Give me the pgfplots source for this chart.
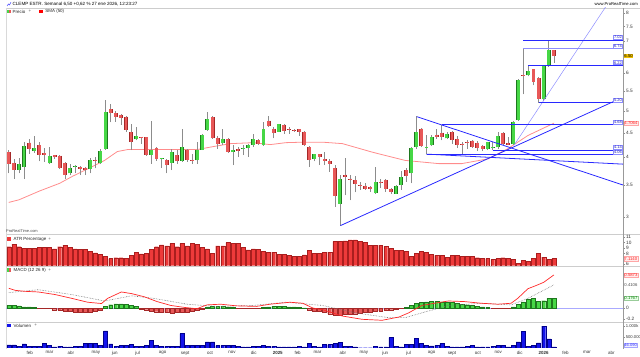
\documentclass[border=0pt]{standalone}
\usepackage{pgfplots}
\pgfplotsset{compat=1.18}
\usepackage{pgfplotstable}
\usepackage{fontspec}
\setmainfont{Liberation Sans}

\definecolor{candleR}{RGB}{232,88,88}
\definecolor{candleRd}{RGB}{165,40,40}
\definecolor{candleG}{RGB}{70,215,70}
\definecolor{candleGd}{RGB}{30,120,30}
\definecolor{wick}{RGB}{140,140,140}
\definecolor{sma}{RGB}{255,140,140}
\definecolor{tl}{RGB}{40,40,255}
\definecolor{tll}{RGB}{140,140,255}
\definecolor{atrR}{RGB}{238,58,58}
\definecolor{atrRd}{RGB}{170,30,30}
\definecolor{macdR}{RGB}{255,40,40}
\definecolor{volB}{RGB}{20,20,235}
\definecolor{volBd}{RGB}{0,0,140}
\definecolor{sepc}{RGB}{205,205,205}
\definecolor{zeroL}{RGB}{170,170,255}
\definecolor{ybox}{RGB}{240,192,0}

\pgfplotstableread{
i O H L C
0 4.10 4.14 3.70 3.88
1 3.90 3.97 3.61 3.76
2 3.77 3.98 3.70 3.88
3 3.82 4.30 3.60 4.22
4 4.29 4.36 4.07 4.17
5 4.12 4.44 4.09 4.19
6 4.24 4.30 3.92 4.05
7 4.08 4.18 3.91 4.05
8 3.89 4.20 3.88 4.02
9 4.04 4.05 3.97 4.00
10 4.03 4.04 3.78 3.79
11 3.89 3.91 3.61 3.67
12 3.70 3.88 3.67 3.80
13 3.82 3.86 3.70 3.84
14 3.82 3.84 3.67 3.78
15 3.80 3.82 3.67 3.76
16 3.78 3.98 3.70 3.95
17 3.95 4.00 3.79 3.93
18 3.90 4.17 3.88 4.12
19 4.16 5.27 4.15 4.98
20 5.04 5.16 4.73 4.94
21 4.94 5.00 4.74 4.86
22 4.90 4.92 4.67 4.84
23 4.86 4.88 4.51 4.56
24 4.51 4.69 4.14 4.30
25 4.36 4.62 4.34 4.43
26 4.41 4.41 4.27 4.38
27 4.40 4.41 4.03 4.05
28 4.05 4.77 3.88 4.15
29 4.18 4.20 3.93 3.97
30 3.97 3.99 3.80 3.98
31 3.94 3.97 3.70 3.85
32 3.90 4.17 3.76 4.10
33 4.04 4.14 3.88 3.92
34 3.93 4.58 3.91 4.20
35 4.15 4.17 3.91 3.94
36 3.95 4.07 3.88 3.94
37 3.94 4.30 3.88 4.14
38 4.15 4.48 4.14 4.46
39 4.56 4.98 4.54 4.81
40 4.85 4.88 4.37 4.38
41 4.39 4.44 4.17 4.27
42 4.28 4.58 4.24 4.37
43 4.36 4.38 4.09 4.10
44 4.10 4.24 3.85 4.14
45 4.17 4.20 4.00 4.13
46 4.17 4.24 4.04 4.18
47 4.18 4.27 4.00 4.25
48 4.25 4.48 4.20 4.37
49 4.34 4.37 4.25 4.27
50 4.24 4.74 4.23 4.59
51 4.77 4.88 4.62 4.64
52 4.59 4.63 4.38 4.49
53 4.52 4.70 4.51 4.69
54 4.68 4.69 4.48 4.54
55 4.58 4.62 4.48 4.56
56 4.56 4.58 4.51 4.53
57 4.58 4.59 4.43 4.51
58 4.51 4.54 4.23 4.24
59 4.20 4.22 3.82 3.95
60 3.97 4.07 3.92 4.06
61 4.06 4.07 3.85 4.00
62 3.97 4.11 3.85 3.92
63 3.93 3.97 3.73 3.87
64 3.80 3.85 3.15 3.32
65 3.20 3.68 2.88 3.61
66 3.68 3.99 3.33 3.63
67 3.61 3.67 3.25 3.58
68 3.58 3.66 3.38 3.51
69 3.50 3.55 3.42 3.49
70 3.49 3.53 3.42 3.44
71 3.47 3.49 3.39 3.43
72 3.37 3.82 3.36 3.56
73 3.56 3.61 3.45 3.55
74 3.59 3.61 3.39 3.43
75 3.43 3.45 3.36 3.39
76 3.36 3.50 3.35 3.48
77 3.50 3.74 3.42 3.64
78 3.76 3.80 3.56 3.66
79 3.70 4.20 3.53 4.18
80 4.20 4.87 4.17 4.51
81 4.59 4.61 4.20 4.22
82 4.20 4.45 4.06 4.21
83 4.24 4.45 4.23 4.40
84 4.46 4.58 4.37 4.41
85 4.50 4.68 4.34 4.41
86 4.38 4.51 4.37 4.48
87 4.51 4.54 4.27 4.35
88 4.37 4.44 4.18 4.25
89 4.27 4.30 4.05 4.26
90 4.30 4.34 4.17 4.29
91 4.33 4.35 4.18 4.20
92 4.29 4.33 4.12 4.19
93 4.22 4.25 4.12 4.16
94 4.16 4.31 4.14 4.30
95 4.20 4.30 4.14 4.21
96 4.20 4.52 4.17 4.43
97 4.49 4.51 4.24 4.27
98 4.29 4.40 4.24 4.25
99 4.27 4.77 4.24 4.74
100 4.79 5.82 4.77 5.80
101 5.93 6.74 5.41 5.90
102 5.93 6.22 5.90 6.05
103 6.10 6.12 5.65 5.73
104 5.84 5.87 5.20 5.30
105 5.29 6.22 5.25 6.20
106 6.20 7.00 6.18 6.69
107 6.69 6.71 6.30 6.50
}\ohlc

\pgfplotstableread{
i v
0 9.23
1 9.70
2 9.23
3 8.93
4 8.93
5 8.93
6 9.11
7 9.11
8 9.11
9 8.81
10 9.23
11 9.52
12 9.11
13 8.81
14 8.70
15 8.70
16 8.34
17 8.11
18 7.81
19 7.52
20 7.05
21 7.22
22 7.22
23 7.05
24 7.64
25 8.23
26 7.93
27 8.05
28 8.76
29 9.23
30 9.58
31 9.40
32 9.82
33 9.23
34 9.82
35 9.40
36 9.87
37 9.70
38 9.11
39 8.81
40 8.05
41 9.40
42 9.40
43 9.99
44 9.82
45 9.82
46 9.11
47 8.64
48 8.81
49 8.70
50 8.34
51 8.23
52 8.23
53 7.81
54 7.81
55 7.64
56 7.46
57 7.46
58 7.75
59 8.52
60 8.05
61 8.05
62 8.23
63 8.23
64 10.17
65 10.17
66 10.29
67 10.46
68 10.46
69 10.17
70 9.99
71 9.52
72 9.52
73 9.52
74 9.29
75 8.99
76 8.52
77 8.52
78 8.40
79 7.52
80 8.05
81 8.34
82 8.23
83 7.81
84 7.64
85 7.64
86 7.34
87 7.64
88 7.64
89 7.52
90 7.46
91 7.46
92 7.22
93 7.05
94 7.05
95 6.87
96 7.05
97 7.22
98 7.05
99 6.87
100 6.16
101 6.75
102 6.58
103 7.05
104 8.05
105 7.34
106 6.87
107 7.11
}\atr

\pgfplotstableread{
i v
0 0.05
1 0.05
2 0.04
3 0.02
4 0.02
5 0.01
6 -0.005
7 -0.01
8 -0.01
9 -0.03
10 -0.035
11 -0.05
12 -0.06
13 -0.07
14 -0.075
15 -0.075
16 -0.07
17 -0.06
18 -0.04
19 0.03
20 0.06
21 0.075
22 0.075
23 0.07
24 0.05
25 0.03
26 -0.015
27 -0.03
28 -0.05
29 -0.065
30 -0.075
31 -0.08
32 -0.085
33 -0.08
34 -0.075
35 -0.07
36 -0.06
37 -0.045
38 -0.02
39 0.02
40 0.025
41 0.025
42 0.025
43 0.02
44 0.01
45 -0.005
46 -0.01
47 -0.01
48 -0.01
49 -0.005
50 0.01
51 0.02
52 0.025
53 0.025
54 0.025
55 0.02
56 0.02
57 0.015
58 0.005
59 -0.03
60 -0.05
61 -0.06
62 -0.08
63 -0.10
64 -0.12
65 -0.12
66 -0.115
67 -0.11
68 -0.10
69 -0.09
70 -0.08
71 -0.07
72 -0.06
73 -0.05
74 -0.04
75 -0.03
76 -0.02
77 -0.01
78 0.01
79 0.05
80 0.08
81 0.10
82 0.11
83 0.115
84 0.115
85 0.11
86 0.105
87 0.10
88 0.085
89 0.07
90 0.06
91 0.05
92 0.035
93 0.02
94 0.01
95 -0.005
96 -0.01
97 -0.01
98 -0.005
99 0.02
100 0.07
101 0.11
102 0.16
103 0.17
104 0.12
105 0.13
106 0.17
107 0.177
}\hist

\pgfplotstableread{
i v
0 136
1 136
2 76
3 182
4 76
5 76
6 76
7 212
8 106
9 45
10 76
11 45
12 45
13 76
14 76
15 197
16 212
17 212
18 106
19 773
20 182
21 76
22 106
23 106
24 167
25 76
26 76
27 121
28 348
29 106
30 76
31 76
32 76
33 76
34 652
35 106
36 106
37 106
38 106
39 273
40 273
41 106
42 121
43 121
44 121
45 76
46 45
47 45
48 76
49 76
50 106
51 76
52 76
53 45
54 45
55 45
56 45
57 76
58 45
59 197
60 76
61 45
62 152
63 152
64 197
65 258
66 76
67 76
68 45
69 15
70 15
71 15
72 76
73 45
74 45
75 470
76 76
77 45
78 152
79 152
80 424
81 197
82 106
83 91
84 106
85 212
86 76
87 45
88 45
89 45
90 76
91 121
92 45
93 45
94 45
95 76
96 106
97 121
98 45
99 121
100 273
101 742
102 76
103 106
104 227
105 985
106 409
107 46
}\vol

\pgfplotsset{
  pane/.style={scale only axis, width=623pt, xmin=-0.64, xmax=120.6,
    anchor=north west, axis line style={draw=none}, xtick=\empty,
    ytick pos=right, yticklabel pos=right, tick align=outside,
    major tick length=2pt, tick style={black!45, line width=0.4pt},
    tick label style={font=\fontsize{4.8}{5}\selectfont, text=black!80},
    yticklabel style={inner sep=0.8pt},
    /pgf/number format/assume math mode=true}
}
\tikzset{
  lvl/.style={draw=tll, fill=white, text=tl!70!black, font=\fontsize{4}{4.5}\selectfont,
    inner sep=0.6pt, anchor=south east, yshift=0.5pt},
  rlab/.style={anchor=west, inner sep=0.6pt, font=\fontsize{4.3}{4.5}\selectfont},
  leg/.style={anchor=west, inner sep=0pt, font=\fontsize{4.5}{5}\selectfont, text=black!85}
}

\begin{document}
\def\wicklist{}\def\redlist{}\def\greenlist{}
\foreach \r in {0,...,107}{%
  \pgfplotstablegetelem{\r}{O}\of\ohlc\let\cO\pgfplotsretval
  \pgfplotstablegetelem{\r}{H}\of\ohlc\let\cH\pgfplotsretval
  \pgfplotstablegetelem{\r}{L}\of\ohlc\let\cL\pgfplotsretval
  \pgfplotstablegetelem{\r}{C}\of\ohlc\let\cC\pgfplotsretval
  \xdef\wicklist{\wicklist(\r,\cL)(\r,\cH)(\r,nan)}%
  \ifdim\cC pt<\cO pt
    \xdef\redlist{\redlist(\r,\cO)(\r,\cC)(\r,nan)}%
  \else
    \xdef\greenlist{\greenlist(\r,\cO)(\r,\cC)(\r,nan)}%
  \fi
}
\begin{tikzpicture}
\path[use as bounding box] (0pt,0pt) rectangle (640pt,-360pt);
% separators and frame
\draw[sepc, line width=0.6pt] (0pt,-8.3pt) -- (640pt,-8.3pt);
\draw[sepc, line width=0.8pt] (0pt,-236.3pt) -- (640pt,-236.3pt);
\draw[sepc, line width=0.8pt] (0pt,-268.8pt) -- (640pt,-268.8pt);
\draw[sepc, line width=0.8pt] (0pt,-324.8pt) -- (640pt,-324.8pt);
\draw[black!15, line width=0.6pt] (0.4pt,-8.3pt) -- (0.4pt,-352pt);

% ---------- price pane ----------
\begin{axis}[pane, at={(0pt,-8pt)}, height=224pt, ymode=log, ymin=2.82, ymax=8.194,
  ytick={3,3.5,4,4.5,5,5.5,6,7,7.5,8}, yticklabels={3,3.5,4,4.5,5,5.5,6,7,7.5,8},
  unbounded coords=jump]
\addplot[sma, line width=0.8pt, mark=none] coordinates {(0,3.22) (2,3.26) (6,3.40) (10,3.53) (12.5,3.65) (16.3,3.82) (18.8,3.94) (21.3,4.11) (23.3,4.15) (26.6,4.15) (31.8,4.15) (37,4.15) (39.6,4.20) (43.5,4.27) (48,4.29) (51.3,4.25) (54.4,4.29) (57.7,4.30) (61.6,4.30) (65.5,4.27) (71.3,4.10) (77.8,3.94) (84.4,3.88) (88.9,3.88) (94.1,3.97) (98,4.17) (101.9,4.44) (107,4.71)};
\edef\tmp{\noexpand\addplot[wick, line width=0.6pt, mark=none] coordinates {\wicklist};}\tmp
\edef\tmp{\noexpand\addplot[candleRd, line width=4pt, mark=none] coordinates {\redlist};}\tmp
\edef\tmp{\noexpand\addplot[candleR, line width=2.9pt, mark=none] coordinates {\redlist};}\tmp
\edef\tmp{\noexpand\addplot[candleGd, line width=4pt, mark=none] coordinates {\greenlist};}\tmp
\edef\tmp{\noexpand\addplot[candleG, line width=2.9pt, mark=none] coordinates {\greenlist};}\tmp
% trend lines
\addplot[tl, line width=0.8pt, mark=none] coordinates {(65.1,2.88) (118.6,5.22)};
\addplot[tll, line width=0.5pt, mark=none] coordinates {(99.2,4.24) (117.4,8.31)};
\addplot[tl, line width=0.8pt, mark=none] coordinates {(80.1,4.86) (120.6,3.50)};
\addplot[tl, line width=0.8pt, mark=none] coordinates {(82,4.06) (120.6,3.87)};
\addplot[tl, line width=0.8pt, mark=none] coordinates {(82,4.06) (120.6,4.06)};
\addplot[tl, line width=0.8pt, mark=none] coordinates {(95,4.14) (120.6,4.14)};
\addplot[tl, line width=0.8pt, mark=none] coordinates {(85,4.68) (120.6,4.68)};
\addplot[tl, line width=0.8pt, mark=none] coordinates {(104,5.20) (120.6,5.20)};
\addplot[tl, line width=0.8pt, mark=none] coordinates {(102,6.22) (120.6,6.22)};
\addplot[tll, line width=0.8pt, mark=none] coordinates {(101,6.74) (120.6,6.74)};
\addplot[tl, line width=0.8pt, mark=none] coordinates {(101,7.02) (120.6,7.02)};
\node[lvl] at (axis cs:120.5,7.02) {7.02};
\node[lvl] at (axis cs:120.5,6.74) {6.74};
\node[lvl] at (axis cs:120.5,6.22) {6.22};
\node[lvl] at (axis cs:120.5,5.20) {5.20};
\node[lvl] at (axis cs:120.5,4.68) {4.68};
\node[lvl] at (axis cs:120.5,4.14) {4.14};
\node[lvl, yshift=-0.3pt] at (axis cs:120.5,4.06) {4.06};
\end{axis}

% ---------- ATR pane ----------
\begin{axis}[pane, at={(0pt,-236.5pt)}, height=31.5pt, ymin=5.75, ymax=11.47,
  ytick={6,8,9,10,11}, yticklabels={6,8,9,10,11}]
\addplot[ybar, bar width=4pt, bar shift=0pt, fill=atrR, draw=atrRd, line width=0.3pt] table[x=i,y=v] {\atr};
\end{axis}

% ---------- MACD pane ----------
\begin{axis}[pane, at={(0pt,-269pt)}, height=55.5pt, ymin=-0.2425, ymax=0.733,
  ytick={-0.2,0}, yticklabels={-0.2,0}]
\addplot[zeroL, line width=1pt, mark=none] coordinates {(-0.64,0) (120.6,0)};
\addplot[ybar, bar width=4pt, bar shift=0pt, fill=candleG, draw=candleGd, line width=0.3pt,
  restrict y to domain=0:10] table[x=i,y=v] {\hist};
\addplot[ybar, bar width=4pt, bar shift=0pt, fill=candleR, draw=candleRd, line width=0.3pt,
  restrict y to domain=-10:0] table[x=i,y=v] {\hist};
\addplot[black!55, line width=0.6pt, densely dotted, mark=none] coordinates {(0,0.274) (5.8,0.325) (12.4,0.239) (18.8,0.125) (24.1,0.217) (28.5,0.171) (35.0,0.068) (40.8,0.029) (48.0,0.046) (54.4,0.103) (61.6,0.046) (68.0,-0.085) (74.6,-0.171) (77.8,-0.171) (81.1,-0.085) (86.3,0.046) (92.7,0.085) (98.6,0.056) (101.9,0.171) (107,0.41)};
\addplot[macdR, line width=0.7pt, mark=none] coordinates {(0,0.35) (1.3,0.313) (3.2,0.296) (5.8,0.285) (9.1,0.239) (12.4,0.171) (15.5,0.103) (18.2,0.080) (19.4,0.171) (22.1,0.285) (24.1,0.256) (26.6,0.200) (29.1,0.115) (31.8,0.046) (34.4,0.012) (36.9,-0.012) (38.9,0.056) (41.6,0.068) (44.7,0.039) (48.6,0.029) (51.3,0.068) (55.2,0.103) (57.7,0.085) (59.7,0.0) (61.6,-0.029) (65.5,-0.142) (69.4,-0.200) (73.3,-0.217) (76.6,-0.159) (78.5,-0.085) (81.1,0.046) (83.6,0.085) (86.3,0.125) (89.4,0.115) (92.7,0.085) (96.0,0.068) (98.6,0.085) (99.9,0.171) (101.9,0.342) (103.8,0.410) (105.0,0.456) (107,0.587)};
\end{axis}

% ---------- Volume pane ----------
\begin{axis}[pane, at={(0pt,-325pt)}, height=26pt, ymin=0, ymax=1166,
  ytick={500,1000}, yticklabels={500.000,1.000k},
  yticklabel style={font=\fontsize{4.2}{4.5}\selectfont, inner sep=0.5pt},
  xtick={4.1,8.0,12.2,17.1,20.8,25.3,30.2,34.6,39.5,43.8,48.1,52.8,56.7,60.6,65.6,69.7,73.9,78.5,83.0,87.0,92.1,96.1,100.3,105.0,109.3,113.5,118.3},
  xticklabels={feb,mar,abr,may,jun,jul,ago,sept,oct,nov,dic,\textbf{2025},feb,mar,abr,may,jun,jul,ago,sept,oct,nov,dic,\textbf{2026},feb,mar,abr},
  xtick pos=bottom, xtick style={draw=none},
  xticklabel style={inner sep=0.5pt, yshift=-0.8pt, font=\fontsize{4.5}{5}\selectfont}]
\addplot[ybar, bar width=4pt, bar shift=0pt, fill=volB, draw=volBd, line width=0.3pt] table[x=i,y=v] {\vol};
\end{axis}

% right axis line
\draw[black!40, line width=0.5pt] (623pt,-8.3pt) -- (623pt,-352pt);

% right value boxes
\node[rlab, fill=ybox, text=black] at (623.5pt,-56.6pt) {6.50};
\node[rlab, fill=red!8, draw=red!35, text=red!85] at (623.5pt,-124.4pt) {4.7064};
\node[rlab, fill=red!8, draw=red!35, text=red!85] at (623.5pt,-261pt) {7.1140};
\node[rlab, fill=red!8, draw=red!35, text=red!85] at (623.5pt,-277.3pt) {0.5873};
\node[rlab, text=black!70] at (623.5pt,-287.3pt) {0.4106};
\node[rlab, fill=green!8, draw=green!50!black!40, text=green!50!black] at (623.5pt,-300.7pt) {0.1767};
\node[rlab, fill=blue!6, draw=blue!35, text=blue!80, font=\fontsize{4.1}{4.5}\selectfont] at (623.5pt,-348.5pt) {46.090};

% header
\draw[blue!70, line width=0.5pt] (1.5pt,-6pt) -- (3pt,-4pt) -- (4pt,-5pt) -- (5.5pt,-2.2pt);
\node[anchor=west, inner sep=0pt, font=\fontsize{4.6}{5}\selectfont] at (7pt,-4pt) {CLEMP ESTR. Semanal 6,50 +0,62 \% 27 ene 2026, 12:23:27};
\node[anchor=east, inner sep=0pt, font=\fontsize{4.2}{5}\selectfont] at (638pt,-4pt) {www.ProRealTime.com};

% legends
\fill[candleG] (1.5pt,-9.8pt) rectangle (3.5pt,-13.5pt);
\fill[candleR] (3.5pt,-9.8pt) rectangle (5.5pt,-13.5pt);
\node[leg] at (7pt,-11.7pt) {Precio};
\node[leg, text=black!60] at (23pt,-11.7pt) {+};
\fill[red] (34pt,-9.8pt) rectangle (38pt,-13.5pt);
\node[leg] at (40pt,-11.7pt) {SMA (50)};

\node[anchor=west, inner sep=0pt, font=\fontsize{4}{4.5}\selectfont, text=black!70] at (0.5pt,-233pt) {ProRealTime.com};

\fill[atrR] (2pt,-239.3pt) rectangle (6pt,-243.2pt);
\node[leg] at (8pt,-241.3pt) {ATR Percentage};
\node[leg, text=black!60] at (43pt,-241.3pt) {+};

\fill[candleG] (2pt,-270.5pt) rectangle (4pt,-274.3pt);
\fill[candleR] (4pt,-270.5pt) rectangle (6pt,-274.3pt);
\node[leg] at (8pt,-272.4pt) {MACD (12 26 9)};
\node[leg, text=black!60] at (43pt,-272.4pt) {+};

\fill[volB] (2pt,-326.3pt) rectangle (6pt,-330.2pt);
\node[leg] at (8pt,-328.3pt) {Volumen};
\node[leg, text=black!60] at (29pt,-328.3pt) {+};
\end{tikzpicture}
\end{document}
